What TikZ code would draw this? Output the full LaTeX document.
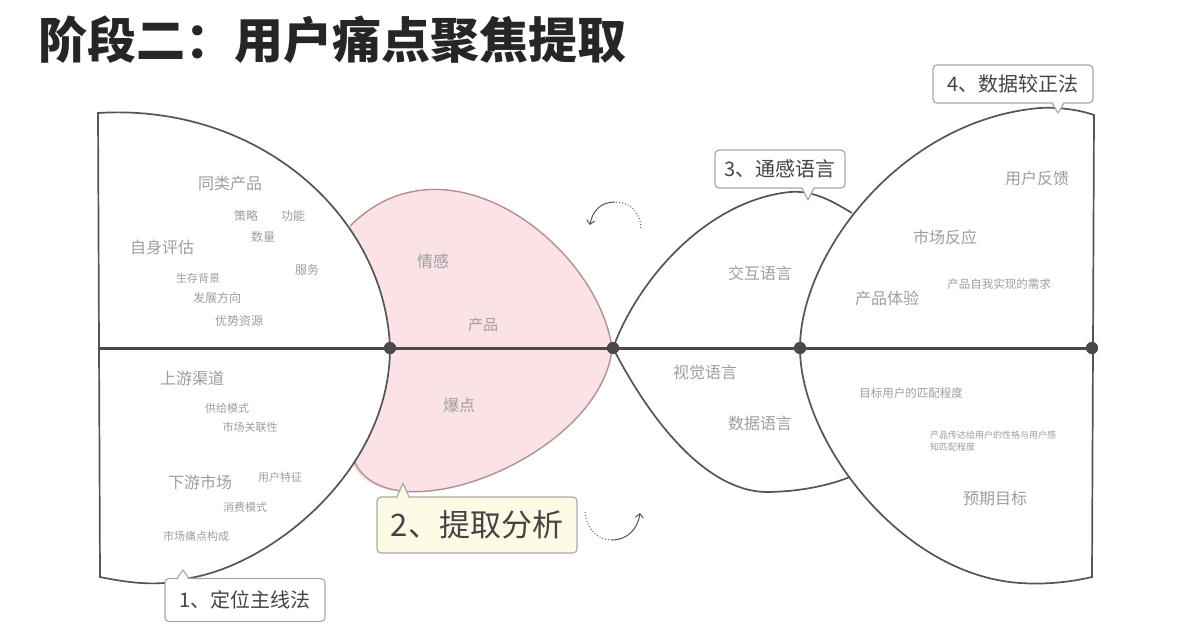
\documentclass[tikz,border=0pt]{standalone}
\usepackage{fontspec}
\setmainfont{Noto Sans CJK SC}
\usetikzlibrary{arrows.meta}
\definecolor{linec}{HTML}{4A4A4A}
\definecolor{arcc}{HTML}{555555}
\definecolor{pinkf}{HTML}{FBE2E6}
\definecolor{pinks}{HTML}{B58E93}
\definecolor{lblc}{HTML}{9E9E9E}
\definecolor{boxc}{HTML}{AAAAAA}
\definecolor{boxt}{HTML}{444444}
\definecolor{yellowf}{HTML}{FDFBE6}
\definecolor{titlec}{HTML}{262626}
\newcommand{\myfs}[1]{\fontsize{#1}{#1}\selectfont}
\begin{document}
\begin{tikzpicture}[x=1pt,y=-1pt,
  lbl/.style={text=lblc, inner sep=0pt},
  big/.style={lbl, font=\myfs{16}},
  mid/.style={lbl, font=\myfs{12}},
  sml/.style={lbl, font=\myfs{11}},
  arcline/.style={draw=arcc, line width=1.7pt},
  pinkline/.style={draw=pinks, line width=1.4pt},
  callout/.style={draw=boxc, line width=1.2pt, rounded corners=4pt, fill=white, text=boxt, inner sep=0pt},
  ptr/.style={draw=boxc, line width=1.2pt, line join=round},
  dotnode/.style={circle, fill=linec, inner sep=0pt, minimum size=12pt},
  turn/.style={draw=arcc, line width=1pt},
  turndot/.style={draw=arcc, line width=1pt, dotted}]
\useasboundingbox[fill=white] (0,0) rectangle (1200,640);

% title
\node[anchor=west, inner sep=0pt, text=titlec, font=\myfs{49}\bfseries] (title) at (38,40) {阶段二：用户痛点聚焦提取};

% pink region
\fill[pinkf] (350,226) .. controls (448,128) and (598,247) .. (612,348)
  .. controls (598,460) and (382,540) .. (350,460) -- (300,348) -- cycle;
\draw[pinkline] (350,226) .. controls (448,128) and (598,247) .. (612,348);
\draw[pinkline] (353,458) .. controls (382,540) and (598,460) .. (612,350);

% left shape
\filldraw[fill=white, arcline] (98,113) .. controls (258,103) and (385,215) .. (390,348)
  .. controls (390,470) and (273,564) .. (190,578)
  .. controls (160,588) and (125,582) .. (100,577) -- cycle;

% middle lens
\draw[arcline] (613,348) .. controls (640,275) and (710,200) .. (790,192)
  .. controls (815,190) and (835,203) .. (852,213);
\draw[arcline] (613,348) .. controls (650,420) and (705,490) .. (765,492)
  .. controls (800,492) and (830,485) .. (850,477);

% right shape
\draw[arcline] (1092,577) .. controls (1075,581) and (1050,585) .. (1020,583)
  .. controls (900,575) and (800,440) .. (800,348)
  .. controls (800,255) and (900,120) .. (1040,108)
  .. controls (1060,107) and (1080,110) .. (1094,115) -- cycle;

% main axis
\node[dotnode] (d1) at (390,348) {};
\node[dotnode] (d2) at (613,348) {};
\node[dotnode] (d3) at (800,348) {};
\node[dotnode] (d4) at (1092,348) {};
\coordinate (l0) at (98,348);
\draw[linec, line width=3pt] (l0) -- (d1.center) -- (d2.center) -- (d3.center) -- (d4.center);
\node[dotnode] at (d1) {};
\node[dotnode] at (d2) {};
\node[dotnode] at (d3) {};
\node[dotnode] at (d4) {};

% turn arrows
\draw[turndot] (641,228) .. controls (640,210) and (628,202) .. (615,202);
\draw[turn, -{Straight Barb[length=4pt,width=8pt]}] (615,202) .. controls (600,202) and (592,212) .. (590,225);
\draw[turndot] (585,512) .. controls (587,530) and (598,540) .. (612,540);
\draw[turn, -{Straight Barb[length=4pt,width=8pt]}] (612,540) .. controls (628,540) and (638,528) .. (640,513);

% labels left
\node[big] (a1) at (230,183) {同类产品};
\node[mid] (a2) at (246,216) {策略};
\node[mid] (a3) at (293,216) {功能};
\node[mid] (a4) at (263,237) {数量};
\node[big] (a5) at (162,247) {自身评估};
\node[mid] (a6) at (307,270) {服务};
\node[sml] (a7) at (198,278) {生存背景};
\node[mid] (a8) at (217,298) {发展方向};
\node[mid] (a9) at (239,321) {优势资源};
\node[big] (b1) at (192,378) {上游渠道};
\node[sml] (b2) at (227,408) {供给模式};
\node[sml] (b3) at (250,427) {市场关联性};
\node[big] (b4) at (200,482) {下游市场};
\node[sml] (b5) at (280,477) {用户特征};
\node[sml] (b6) at (245,507) {消费模式};
\node[sml] (b7) at (196,536) {市场痛点构成};
% pink labels
\node[big] (p1) at (433,261) {情感};
\node[lbl, font=\myfs{15}] (p2) at (483,325) {产品};
\node[big] (p3) at (459,405) {爆点};
% middle labels
\node[big] (m1) at (760,273) {交互语言};
\node[big] (m2) at (705,372) {视觉语言};
\node[big] (m3) at (760,423) {数据语言};
% right labels
\node[big] (r1) at (1037,178) {用户反馈};
\node[big] (r2) at (945,237) {市场反应};
\node[lbl, font=\myfs{11.5}] (r3) at (999,284) {产品自我实现的需求};
\node[big] (r4) at (887,298) {产品体验};
\node[lbl, font=\myfs{11.5}] (r5) at (911,393) {目标用户的匹配程度};
\node[lbl, font=\myfs{9}, align=left, anchor=west] (r6) at (930,441) {产品传达给用户的性格与用户感\\[3pt]知匹配程度};
\node[big] (r7) at (995,498) {预期目标};

% callouts
\node[callout, minimum width=160pt, minimum height=43pt, font=\myfs{20}] (c1) at (245,600) {1、定位主线法};
\fill[white] (177,581) -- (183,570) -- (189,581) -- cycle;
\draw[ptr] (177,578.5) -- (183,570) -- (189,578.5);

\node[callout, fill=yellowf, minimum width=200pt, minimum height=56pt, font=\myfs{31}] (c2) at (477,525) {2、提取分析};
\fill[yellowf] (397,499) -- (403,483) -- (409,499) -- cycle;
\draw[ptr] (397,497) -- (403,483) -- (409,497);

\node[callout, minimum width=130pt, minimum height=38pt, font=\myfs{20}] (c3) at (780,169) {3、通感语言};
\fill[white] (802,186) -- (808,200) -- (814,186) -- cycle;
\draw[ptr] (802,188) -- (808,200) -- (814,188);

\node[callout, minimum width=160pt, minimum height=38pt, font=\myfs{20}] (c4) at (1013,84) {4、数据较正法};
\fill[white] (1052,101) -- (1058,113) -- (1064,101) -- cycle;
\draw[ptr] (1052,103) -- (1058,113) -- (1064,103);
\end{tikzpicture}
\end{document}
